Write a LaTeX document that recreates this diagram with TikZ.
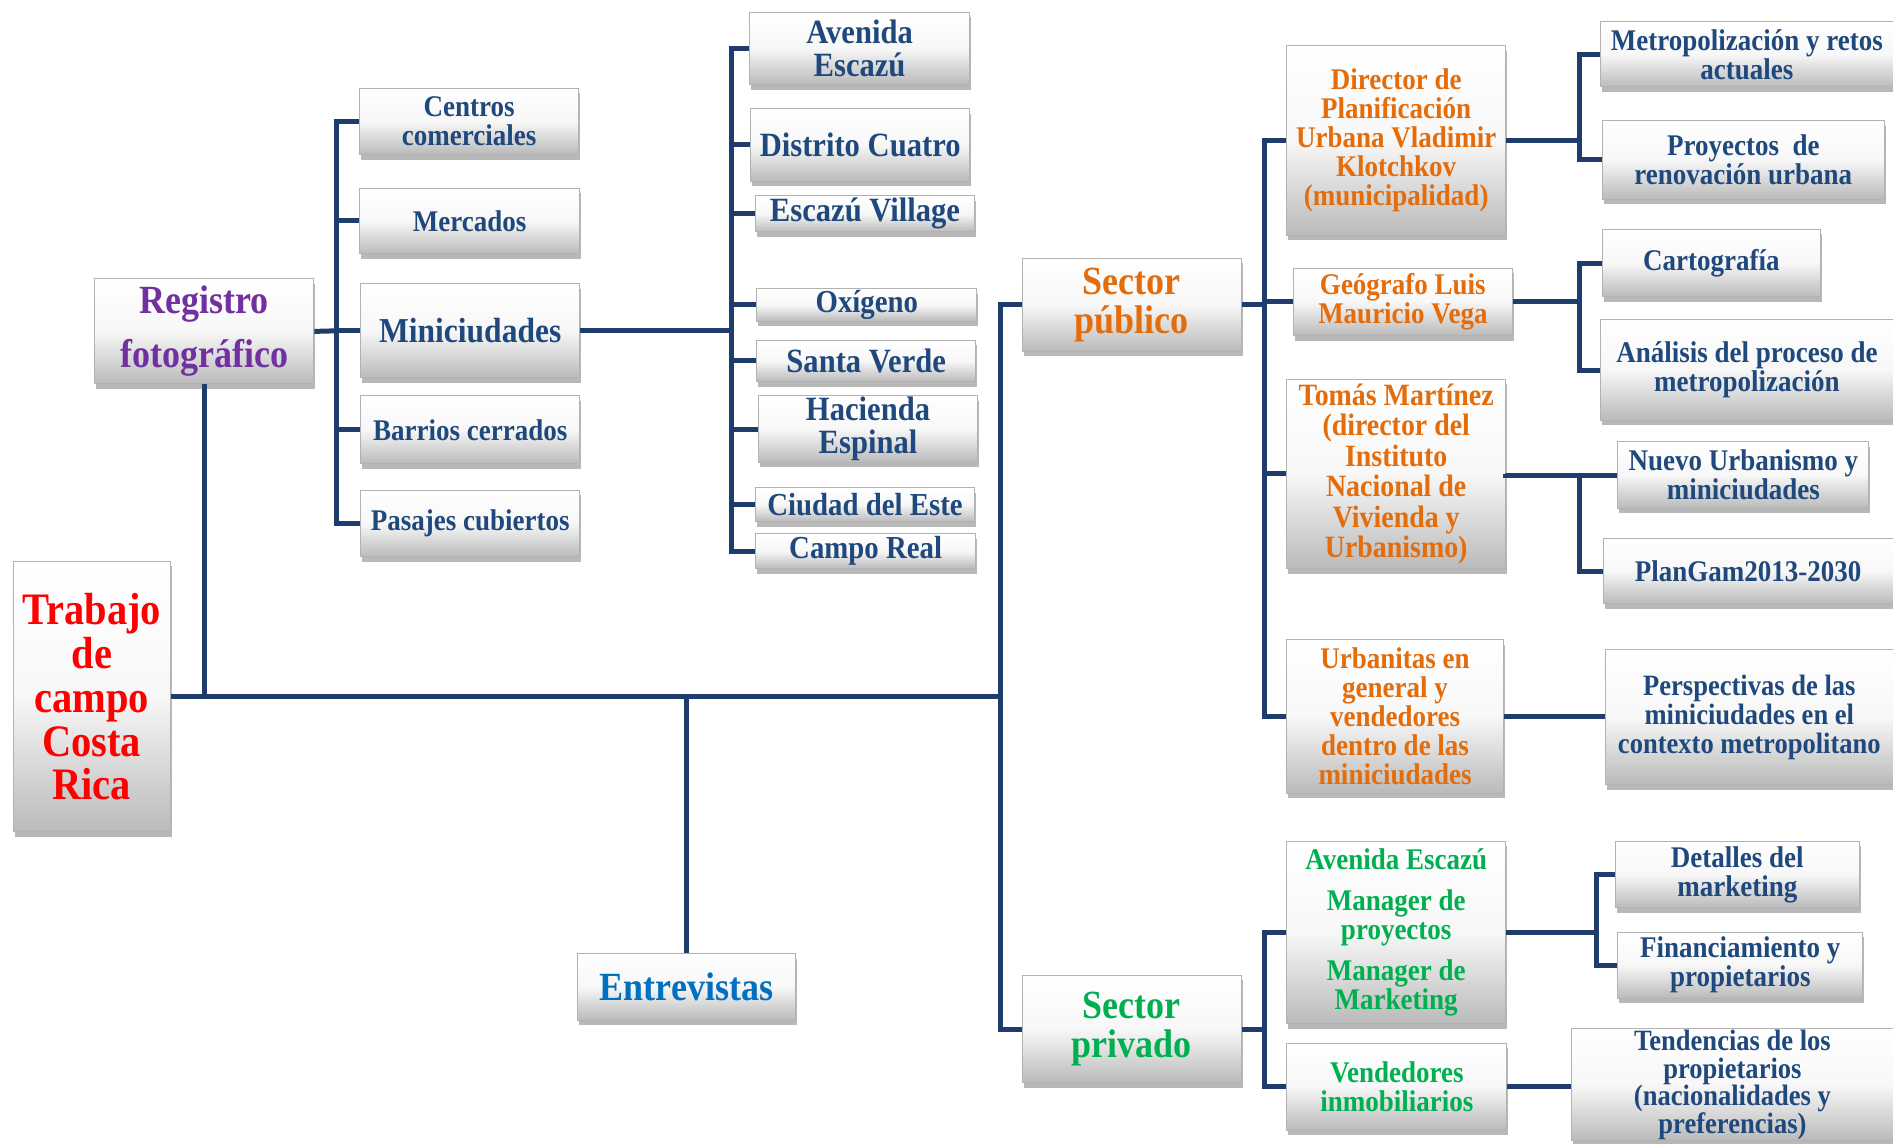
\documentclass[tikz,border=0pt]{standalone}
\usepackage{fontspec}
\setmainfont{Liberation Serif}[FakeStretch=0.9]
\usetikzlibrary{shadows}
\definecolor{navytxt}{RGB}{31,73,125}
\definecolor{linec}{RGB}{30,60,108}
\definecolor{orng}{RGB}{228,108,10}
\definecolor{grn}{RGB}{0,176,80}
\definecolor{purp}{RGB}{112,48,160}
\definecolor{bluet}{RGB}{0,112,192}
\newcommand\mkbox[7]{\node[box,#6,minimum width={(#4-#2)*1.2073pt},minimum height={(#5-#3)*1.2073pt}] (#1) at ({(#2+#4)/2},{(#3+#5)/2}) {#7};}
\tikzset{
  box/.style={rectangle, draw=black!30, line width=1pt, top color=white, bottom color=black!27, middle color=black!3, align=center, inner sep=0pt,
    drop shadow={shadow xshift=1.5pt, shadow yshift=-5pt, opacity=0.28, fill=black}},
  conn/.style={draw=linec, line width=5pt},
  fsA/.style={font=\bfseries\fontsize{30}{29}\selectfont},
  fsB/.style={font=\bfseries\fontsize{34}{33}\selectfont},
  fsC/.style={font=\bfseries\fontsize{40}{39}\selectfont},
  nv/.style={text=navytxt},
  og/.style={text=orng},
  gn/.style={text=grn},
}
\begin{document}
\begin{tikzpicture}[x=1.2073pt,y=-1.2073pt]
\useasboundingbox (0,0) rectangle (1568,947);
% left
\mkbox{trab}{11}{465}{141}{689}{text=red,font=\bfseries\fontsize{45}{44}\selectfont}{Trabajo\\de\\campo\\Costa\\Rica}
\mkbox{reg}{78}{231}{260}{318}{text=purp,font=\bfseries\fontsize{40}{54}\selectfont}{Registro\\fotográfico}
\mkbox{cen}{298}{73}{479}{128}{fsA,nv}{Centros\\comerciales}
\mkbox{mer}{298}{156}{480}{210}{fsA,nv}{Mercados}
\mkbox{mini}{299}{235}{480}{313}{nv,font=\bfseries\fontsize{35}{34}\selectfont}{Miniciudades}
\mkbox{bar}{299}{328}{480}{384}{fsA,nv}{Barrios cerrados}
\mkbox{pas}{299}{406}{480}{461}{fsA,nv}{Pasajes cubiertos}
% miniciudades list
\mkbox{ave}{621}{10}{803}{70}{fsB,nv}{Avenida\\Escazú}
\mkbox{dis}{622}{90}{803}{150}{fsB,nv}{Distrito Cuatro}
\mkbox{esc}{626}{162}{807}{192}{fsB,nv}{Escazú Village}
\mkbox{oxi}{627}{239}{809}{266}{nv,font=\bfseries\fontsize{32}{31}\selectfont}{Oxígeno}
\mkbox{san}{627}{282}{808}{316}{fsB,nv}{Santa Verde}
\mkbox{hac}{628}{328}{810}{383}{fsB,nv}{Hacienda\\Espinal}
\mkbox{ciu}{626}{404}{807}{432}{nv,font=\bfseries\fontsize{32}{31}\selectfont}{Ciudad del Este}
\mkbox{cam}{626}{442}{808}{471}{nv,font=\bfseries\fontsize{32}{31}\selectfont}{Campo Real}
% entrevistas
\mkbox{ent}{478}{790}{659}{845}{fsC,text=bluet}{Entrevistas}
\mkbox{pub}{847}{214}{1028}{291}{fsC,og}{Sector\\público}
\mkbox{priv}{847}{808}{1028}{897}{fsC,gn}{Sector\\privado}
% public
\mkbox{dir}{1066}{38}{1247}{195}{fsA,og}{Director de\\Planificación\\Urbana Vladimir\\Klotchkov\\(municipalidad)}
\mkbox{geo}{1071}{222}{1253}{278}{fsA,og}{Geógrafo Luis\\Mauricio Vega}
\mkbox{tom}{1066}{314}{1247}{471}{og,font=\bfseries\fontsize{31}{30.5}\selectfont}{Tomás Martínez\\(director del\\Instituto\\Nacional de\\Vivienda y\\Urbanismo)}
\mkbox{urb}{1066}{530}{1245}{657}{fsA,og}{Urbanitas en\\general y\\vendedores\\dentro de las\\miniciudades}
\mkbox{met}{1326}{18}{1568}{72}{fsA,nv}{Metropolización y retos\\actuales}
\mkbox{pro}{1327}{100}{1561}{165}{fsA,nv}{Proyectos\ \ de\\renovación urbana}
\mkbox{car}{1327}{190}{1508}{246}{fsA,nv}{Cartografía}
\mkbox{ana}{1326}{265}{1568}{348}{fsA,nv}{Análisis del proceso de\\metropolización}
\mkbox{nue}{1340}{366}{1548}{421}{fsA,nv}{Nuevo Urbanismo y\\miniciudades}
\mkbox{pla}{1328}{446}{1568}{500}{fsA,nv}{PlanGam2013-2030}
\mkbox{per}{1330}{538}{1568}{650}{nv,font=\bfseries\fontsize{29.5}{29}\selectfont}{Perspectivas de las\\miniciudades en el\\contexto metropolitano}
% private
\mkbox{ave2}{1066}{697}{1247}{848}{fsA,gn}{Avenida Escazú\\[12pt]Manager de\\proyectos\\[12pt]Manager de\\Marketing}
\mkbox{ven}{1066}{864}{1248}{936}{fsA,gn}{Vendedores\\inmobiliarios}
\mkbox{det}{1338}{697}{1540}{752}{fsA,nv}{Detalles del\\marketing}
\mkbox{fin}{1340}{772}{1543}{827}{fsA,nv}{Financiamiento y\\propietarios}
\mkbox{ten}{1302}{852}{1568}{945}{nv,font=\bfseries\fontsize{29.5}{27.5}\selectfont}{Tendencias de los\\propietarios\\(nacionalidades y\\preferencias)}
% connectors
\coordinate (j) at (829,577);
\draw[conn] (trab.east) -- (j);
\draw[conn] (reg.south) -- (reg.south |- trab.east);
\draw[conn] (ent.north) -- (ent.north |- trab.east);
\draw[conn] (pub.west) -| (j);
\draw[conn] (priv.west) -| (j);
% registro bracket
\coordinate (rb) at (279,274);
\draw[conn] (reg.east) -- (rb);
\foreach \n in {cen,mer,mini,bar,pas} \draw[conn] (rb) |- (\n.west);
% miniciudades bracket
\coordinate (mb) at (606,274);
\draw[conn] (mini.east) -- (mb);
\foreach \n in {ave,dis,esc,oxi,san,hac,ciu,cam} \draw[conn] (mb) |- (\n.west);
% public bracket
\coordinate (pb) at (1047,252.5);
\draw[conn] (pub.east) -- (pb);
\foreach \n in {dir,geo,tom,urb} \draw[conn] (pb) |- (\n.west);
\coordinate (db) at (1308,116.5);
\draw[conn] (dir.east) -- (db);
\draw[conn] (db) |- (met.west);
\draw[conn] (db) |- (pro.west);
\coordinate (gb) at (1308,250);
\draw[conn] (geo.east) -- (gb);
\draw[conn] (gb) |- (car.west);
\draw[conn] (gb) |- (ana.west);
\coordinate (tb) at (1308,392.5);
\draw[conn] (tom.east) -- (nue.west -| tom.east) -- (nue.west);
\draw[conn] (tb) |- (pla.west);
\draw[conn] (urb.east) -- (urb.east -| per.west);
% private bracket
\coordinate (vb) at (1047,852.5);
\draw[conn] (priv.east) -- (vb);
\draw[conn] (vb) |- (ave2.west);
\draw[conn] (vb) |- (ven.west);
\coordinate (ab) at (1322,772.5);
\draw[conn] (ave2.east) -- (ab);
\draw[conn] (ab) |- (det.west);
\draw[conn] (ab) |- (fin.west);
\draw[conn] (ven.east) -- (ven.east -| ten.west);
\end{tikzpicture}
\end{document}
